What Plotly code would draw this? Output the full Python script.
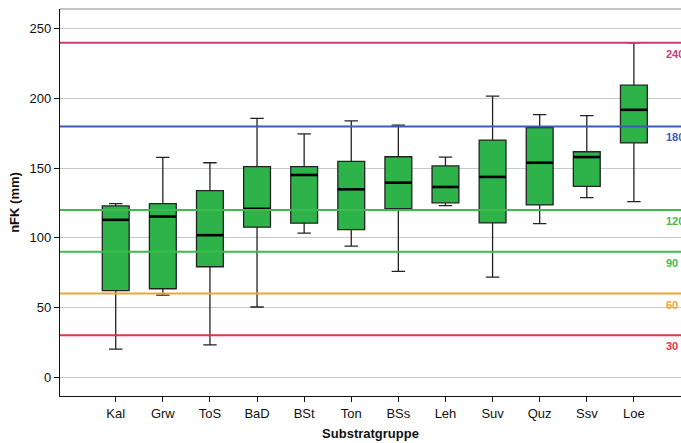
import plotly.graph_objects as go

categories = ["Kal", "Grw", "ToS", "BaD", "BSt", "Ton", "BSs", "Leh", "Suv", "Quz", "Ssv", "Loe"]
lower_whisker = [20.0, 58.9, 23.1, 50.3, 103.3, 94.0, 75.9, 123.1, 71.8, 110.2, 128.9, 126.0]
q1 = [62.0, 63.4, 79.2, 107.6, 110.5, 105.9, 121.0, 125.1, 110.7, 123.6, 137.0, 168.1]
median = [112.9, 115.3, 101.9, 120.8, 145.1, 134.8, 139.6, 136.5, 143.7, 153.9, 158.0, 191.9]
q3 = [122.9, 124.6, 133.9, 151.1, 151.1, 154.9, 158.2, 151.6, 170.2, 179.2, 161.8, 209.6]
upper_whisker = [124.5, 157.7, 153.9, 185.7, 174.7, 184.0, 180.9, 158.0, 201.7, 188.5, 187.8, 240.0]

ref_values = [240, 180, 120, 90, 60, 30]
ref_labels = ["240", "180", "120", "90", "60", "30"]
ref_colors = ["#C83C7C", "#3F5BB5", "#3DBB4E", "#3DBB4E", "#F0A437", "#E2334A"]

y_ticks = [0, 50, 100, 150, 200, 250]

FONT = "Liberation Sans, Arial, sans-serif"
BOX_W = 0.57

fig = go.Figure()
fig.add_trace(go.Box(
    x=categories,
    q1=q1, median=median, q3=q3,
    lowerfence=lower_whisker, upperfence=upper_whisker,
    width=BOX_W,
    whiskerwidth=0.5,
    fillcolor="#2DB34A",
    line=dict(color="#222222", width=1.3),
    boxpoints=False,
    showlegend=False,
    hoverinfo="skip",
))

shapes = []
# thick median lines
for i, m in enumerate(median):
    shapes.append(dict(type="line", xref="x", yref="y",
                       x0=i - BOX_W / 2, x1=i + BOX_W / 2, y0=m, y1=m,
                       line=dict(color="#000000", width=2.6), layer="above"))
# reference lines
annotations = []
for v, lab, c in zip(ref_values, ref_labels, ref_colors):
    shapes.append(dict(type="line", xref="paper", yref="y", x0=0, x1=1, y0=v, y1=v,
                       line=dict(color=c, width=2), layer="above"))
    annotations.append(dict(xref="paper", yref="y", x=0.973, y=v, yshift=-11,
                            text="<b>" + lab + "</b>", showarrow=False,
                            xanchor="left", yanchor="middle",
                            font=dict(family=FONT, size=11, color=c)))
# top frame line
shapes.append(dict(type="line", xref="paper", yref="paper", x0=0, x1=1, y0=1, y1=1,
                   line=dict(color="#8a8a8a", width=1.2), layer="below"))

fig.update_layout(
    width=681, height=443,
    margin=dict(l=60, r=0, t=9, b=47),
    paper_bgcolor="white", plot_bgcolor="white",
    shapes=shapes, annotations=annotations,
    font=dict(family=FONT, color="#111111"),
)
fig.update_xaxes(
    type="category", categoryorder="array", categoryarray=categories,
    range=[-1.183, 12.0],
    showline=True, linecolor="#111111", linewidth=1.3,
    ticks="outside", ticklen=5, tickcolor="#111111", tickwidth=1,
    showgrid=False, zeroline=False,
    tickfont=dict(family=FONT, size=13, color="#111111"),
    title=dict(text="<b>Substratgruppe</b>", font=dict(family=FONT, size=13, color="#111111"), standoff=9),
)
fig.update_yaxes(
    range=[-13.6, 264.3],
    tickvals=y_ticks, ticktext=[str(t) for t in y_ticks],
    showline=True, linecolor="#111111", linewidth=1.3,
    ticks="outside", ticklen=5, tickcolor="#111111", tickwidth=1,
    showgrid=True, gridcolor="#c8c8c8", gridwidth=1, zeroline=False,
    tickfont=dict(family=FONT, size=13, color="#111111"),
    title=dict(text="<b>nFK (mm)</b>", font=dict(family=FONT, size=13, color="#111111"), standoff=6),
)

fig.write_html("out.html",
               config={"displayModeBar": False},
               post_script="document.body.style.margin='0';document.body.style.overflow='hidden';")
